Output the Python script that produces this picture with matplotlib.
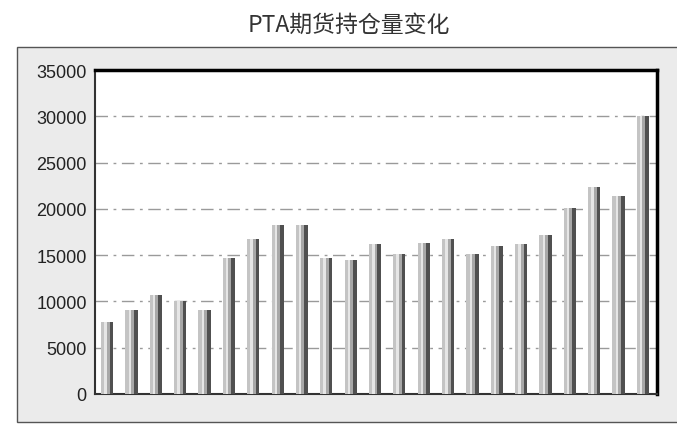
import matplotlib
matplotlib.use("Agg")
import matplotlib.pyplot as plt
from matplotlib.patches import Rectangle
import numpy as np

plt.rcParams['font.family'] = ['Noto Sans CJK SC', 'DejaVu Sans']

title = "PTA期货持仓量变化"
values = [7800, 9100, 10700, 10100, 9100, 14700, 16750, 18250, 18250, 14700,
          14500, 16200, 15100, 16350, 16750, 15100, 15950, 16200, 17200, 20100,
          22350, 21350, 30050]
yticks = [0, 5000, 10000, 15000, 20000, 25000, 30000, 35000]

W, H = 677, 427
fig = plt.figure(figsize=(W / 100, H / 100), dpi=100)
fig.patch.set_facecolor('white')

# gray panel
fig.patches.append(Rectangle((17 / W, 1 - 423 / H), 1, (423 - 48) / H,
                             transform=fig.transFigure, facecolor='#ebebeb',
                             edgecolor='#555555', linewidth=1.0, zorder=-5))

fig.text(349 / W, 1 - 25 / H, title, ha='center', va='center', fontsize=16.5,
         color='#333333')

ax = fig.add_axes([95 / W, 1 - 395 / H, (657 - 95) / W, (395 - 71) / H])
ax.set_zorder(2)
ax.set_facecolor('white')
x = np.arange(len(values))

# striped bars to imitate cylinder shading
stripes = [('#c4c4c4', 0.13), ('#e6e6e6', 0.10), ('#a8a8a8', 0.12), ('#505050', 0.15)]
left = x - 0.25
off = 0.0
for col, w in stripes:
    ax.bar(left + off, values, width=w, align='edge', color=col, linewidth=0, zorder=3)
    off += w

ax.set_ylim(0, 35000)
ax.set_xlim(-0.5, 22.58)
ax.set_yticks(yticks)
ax.set_yticklabels([str(v) for v in yticks], family='Liberation Sans', fontsize=13,
                   color='#222222')
ax.tick_params(axis='y', length=0, pad=6)
ax.set_xticks([])

for v in yticks[1:-1]:
    ax.axhline(v, color='#9a9a9a', linewidth=1.0, linestyle=(0, (9, 4, 2, 4)), zorder=1)

ax.spines['top'].set_linewidth(2.5)
ax.spines['top'].set_color('black')
ax.spines['right'].set_linewidth(2.5)
ax.spines['right'].set_color('black')
ax.spines['left'].set_linewidth(1.5)
ax.spines['left'].set_color('#333333')
ax.spines['bottom'].set_linewidth(1.5)
ax.spines['bottom'].set_color('#333333')

fig.savefig('out.png', dpi=100, facecolor='white')
